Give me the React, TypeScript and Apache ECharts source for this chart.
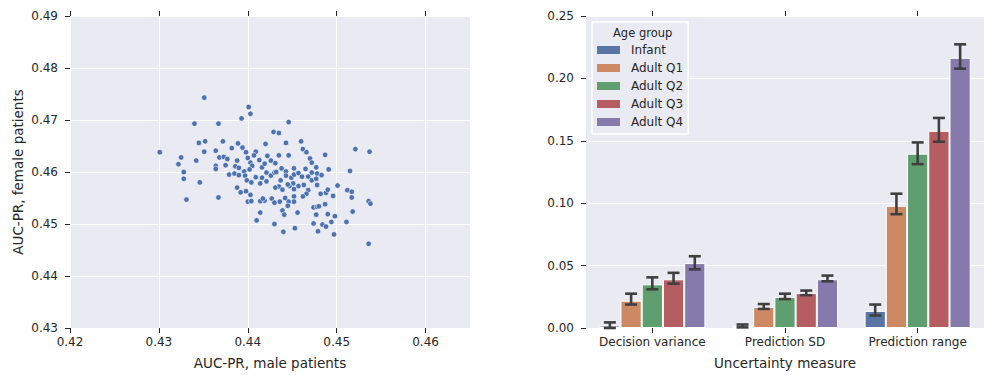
import React, { useEffect, useRef } from "react";
import * as echarts from "echarts";

const maleAUC = [
  0.4351, 0.4401, 0.4403, 0.434, 0.4367, 0.4393, 0.4446, 0.4429, 0.4435, 0.4345,
  0.4352, 0.4372, 0.4389, 0.442, 0.4443, 0.446, 0.4521, 0.4537, 0.4301, 0.4351,
  0.4364, 0.4382, 0.4394, 0.4398, 0.4409, 0.4462, 0.4466, 0.4487, 0.4325, 0.4342,
  0.4322, 0.4328, 0.4328, 0.4346, 0.4331, 0.4367, 0.4368, 0.4373, 0.4377, 0.4364,
  0.4364, 0.4375, 0.4379, 0.4386, 0.4388, 0.439, 0.4385, 0.439, 0.4396, 0.4397,
  0.44, 0.4403, 0.4405, 0.4402, 0.4407, 0.4399, 0.4404, 0.4388, 0.4392, 0.4398,
  0.4403, 0.44, 0.4404, 0.4409, 0.4413, 0.4416, 0.4419, 0.4422, 0.4426, 0.4421,
  0.4416, 0.4414, 0.4421, 0.4426, 0.443, 0.4431, 0.4435, 0.4438, 0.4432, 0.4437,
  0.4446, 0.4443, 0.4443, 0.4449, 0.4452, 0.4452, 0.4457, 0.4461, 0.4465, 0.447,
  0.4472, 0.4477, 0.4472, 0.4478, 0.4483, 0.4491, 0.4468, 0.4472, 0.4477, 0.4478,
  0.4463, 0.4457, 0.4451, 0.4447, 0.4445, 0.4435, 0.4431, 0.4439, 0.4452, 0.4468,
  0.4466, 0.4462, 0.4452, 0.4452, 0.4446, 0.4442, 0.4436, 0.4427, 0.443, 0.4419,
  0.4414, 0.4417, 0.4445, 0.4439, 0.4441, 0.4456, 0.4474, 0.4478, 0.448, 0.4487,
  0.4482, 0.4488, 0.449, 0.4496, 0.4501, 0.4512, 0.4517, 0.4517, 0.4515, 0.4477,
  0.449, 0.4498, 0.4494, 0.4484, 0.4488, 0.4474, 0.4479, 0.4497, 0.4511, 0.4518,
  0.4536, 0.4538, 0.4536, 0.4453, 0.444, 0.443, 0.4414, 0.441,
];
const femaleAUC = [
  0.4743, 0.4725, 0.4712, 0.4693, 0.4693, 0.4703, 0.4696, 0.4677, 0.4675, 0.4656,
  0.4659, 0.4659, 0.4655, 0.4654, 0.4656, 0.4659, 0.4644, 0.4639, 0.4638, 0.4639,
  0.4641, 0.4646, 0.4647, 0.4638, 0.4639, 0.4644, 0.4638, 0.4633, 0.4628, 0.4622,
  0.4615, 0.46, 0.4587, 0.458, 0.4547, 0.4551, 0.4628, 0.4629, 0.4625, 0.4612,
  0.4606, 0.4613, 0.4595, 0.4611, 0.4622, 0.4608, 0.4597, 0.4594, 0.4601, 0.4593,
  0.4627, 0.4618, 0.4612, 0.4605, 0.4632, 0.4584, 0.458, 0.457, 0.4561, 0.4563,
  0.4556, 0.4543, 0.4544, 0.459, 0.4623, 0.4609, 0.4616, 0.4631, 0.4622, 0.4599,
  0.4589, 0.4578, 0.4582, 0.4593, 0.4599, 0.4617, 0.4632, 0.4607, 0.46, 0.4584,
  0.4632, 0.4601, 0.4593, 0.4589, 0.4607, 0.4595, 0.4598, 0.4591, 0.4606, 0.4626,
  0.4618, 0.4609, 0.4599, 0.4597, 0.4594, 0.4605, 0.4591, 0.4584, 0.4587, 0.4575,
  0.4575, 0.4573, 0.4578, 0.4573, 0.4576, 0.4572, 0.457, 0.4566, 0.4567, 0.4565,
  0.4558, 0.4553, 0.4553, 0.4543, 0.4543, 0.455, 0.4543, 0.4549, 0.4541, 0.4545,
  0.4544, 0.4549, 0.4535, 0.4526, 0.4518, 0.4522, 0.4532, 0.4533, 0.4534, 0.4538,
  0.4558, 0.456, 0.4566, 0.4554, 0.4574, 0.4565, 0.4562, 0.4551, 0.4602, 0.4518,
  0.4519, 0.4515, 0.4504, 0.4499, 0.4495, 0.4501, 0.4486, 0.448, 0.4504, 0.4524,
  0.4544, 0.4539, 0.4462, 0.4492, 0.4485, 0.45, 0.4522, 0.4507,
];

const scatterXTicks = [0.42, 0.43, 0.44, 0.45, 0.46];

const measures = ["Decision variance", "Prediction SD", "Prediction range"];
const ageGroups = ["Infant", "Adult Q1", "Adult Q2", "Adult Q3", "Adult Q4"];
const groupColors = ["#5875A4", "#CC8963", "#5F9E6E", "#B55D60", "#857AAB"];

const infantMean = [0.002, 0.0016, 0.0137];
const adultQ1Mean = [0.0219, 0.0169, 0.0979];
const adultQ2Mean = [0.035, 0.0248, 0.1397];
const adultQ3Mean = [0.039, 0.028, 0.158];
const adultQ4Mean = [0.052, 0.039, 0.2165];

const infantLow = [0.0, 0.0005, 0.01];
const infantHigh = [0.0045, 0.0028, 0.0188];
const adultQ1Low = [0.0188, 0.0153, 0.0912];
const adultQ1High = [0.0275, 0.0192, 0.1076];
const adultQ2Low = [0.031, 0.0232, 0.1313];
const adultQ2High = [0.0406, 0.0275, 0.1487];
const adultQ3Low = [0.0355, 0.0263, 0.1493];
const adultQ3High = [0.0442, 0.030, 0.1683];
const adultQ4Low = [0.047, 0.0374, 0.2078];
const adultQ4High = [0.0575, 0.042, 0.2273];

const means = [infantMean, adultQ1Mean, adultQ2Mean, adultQ3Mean, adultQ4Mean];
const lows = [infantLow, adultQ1Low, adultQ2Low, adultQ3Low, adultQ4Low];
const highs = [infantHigh, adultQ1High, adultQ2High, adultQ3High, adultQ4High];

const TEXT = "#262626";
const FONT = "DejaVu Sans";
const BG = "#EAEAF2";

export default function App() {
  const ref = useRef<HTMLDivElement>(null);

  useEffect(() => {
    document.body.style.margin = "0";
    const chart = echarts.init(ref.current!, null, { renderer: "svg" });

    const tickStyle = { show: true, length: 5, lineStyle: { color: TEXT, width: 1 } };
    const labelStyle = { color: TEXT, fontSize: 12, fontFamily: FONT };

    const errData: number[][] = [];
    for (let s = 0; s < ageGroups.length; s++) {
      for (let c = 0; c < measures.length; c++) {
        errData.push([c, s, lows[s][c], highs[s][c]]);
      }
    }

    const option: any = {
      animation: false,
      textStyle: { fontFamily: FONT, color: TEXT },
      grid: [
        { left: 70, top: 16, width: 400, height: 316, show: true, backgroundColor: BG, borderWidth: 0 },
        { left: 586, top: 16, width: 401, height: 316, show: true, backgroundColor: BG, borderWidth: 0 },
      ],
      xAxis: [
        {
          type: "value", gridIndex: 0, min: 0.42, max: 0.465, position: "bottom",
          name: "AUC-PR, male patients", nameLocation: "middle", nameGap: 28,
          nameTextStyle: { color: TEXT, fontSize: 13.5, fontFamily: FONT },
          axisLine: { show: false },
          axisTick: { ...tickStyle, customValues: scatterXTicks },
          axisLabel: { ...labelStyle, margin: 8, customValues: scatterXTicks, formatter: (v: number) => v.toFixed(2) },
          splitLine: { show: true, lineStyle: { color: "#FFFFFF", width: 1 } },
        },
        {
          type: "value", gridIndex: 0, min: 0.42, max: 0.465, position: "top",
          axisLine: { show: false },
          axisTick: { ...tickStyle, customValues: scatterXTicks },
          axisLabel: { show: false },
          splitLine: { show: false },
        },
        {
          type: "category", gridIndex: 1, data: measures, position: "bottom",
          name: "Uncertainty measure", nameLocation: "middle", nameGap: 28,
          nameTextStyle: { color: TEXT, fontSize: 13.5, fontFamily: FONT },
          axisLine: { show: false },
          axisTick: { ...tickStyle, alignWithLabel: true, interval: 0 },
          axisLabel: { ...labelStyle, margin: 8, interval: 0 },
          splitLine: { show: false },
        },
        {
          type: "category", gridIndex: 1, data: measures, position: "top",
          axisLine: { show: false },
          axisTick: { ...tickStyle, alignWithLabel: true, interval: 0 },
          axisLabel: { show: false },
          splitLine: { show: false },
        },
      ],
      yAxis: [
        {
          type: "value", gridIndex: 0, min: 0.43, max: 0.49, interval: 0.01,
          name: "AUC-PR, female patients", nameLocation: "middle", nameGap: 45,
          nameTextStyle: { color: TEXT, fontSize: 13.5, fontFamily: FONT },
          axisLine: { show: false },
          axisTick: tickStyle,
          axisLabel: { ...labelStyle, margin: 12, formatter: (v: number) => v.toFixed(2) },
          splitLine: { show: true, lineStyle: { color: "#FFFFFF", width: 1 } },
        },
        {
          type: "value", gridIndex: 1, min: 0, max: 0.25, interval: 0.05,
          axisLine: { show: false },
          axisTick: tickStyle,
          axisLabel: { ...labelStyle, margin: 12, formatter: (v: number) => v.toFixed(2) },
          splitLine: { show: true, lineStyle: { color: "#FFFFFF", width: 1 } },
        },
      ],
      legend: {
        data: ageGroups,
        orient: "vertical",
        left: 592,
        top: 22,
        padding: [22, 5, 6, 5],
        itemWidth: 23,
        itemHeight: 8,
        itemGap: 6,
        icon: "rect",
        backgroundColor: BG,
        borderColor: "#FFFFFF",
        borderWidth: 1.5,
        itemStyle: { borderWidth: 0 },
        textStyle: { color: TEXT, fontSize: 12, fontFamily: FONT, lineHeight: 12, padding: [0, 0, 0, 6] },
        selectedMode: false,
      },
      graphic: [
        {
          type: "text", left: 613, top: 27, z: 100,
          style: { text: "Age group", fill: TEXT, fontSize: 11.5, fontFamily: FONT },
        },
      ],
      series: [
        {
          type: "scatter", xAxisIndex: 0, yAxisIndex: 0,
          data: maleAUC.map((x, i) => [x, femaleAUC[i]]),
          symbol: "circle", symbolSize: 5.5,
          itemStyle: { color: "#4C72B0", borderColor: "#FFFFFF", borderWidth: 0.6, opacity: 1 },
        },
        ...ageGroups.map((g, s) => ({
          type: "bar", name: g, xAxisIndex: 2, yAxisIndex: 1,
          data: means[s],
          barGap: "0%", barCategoryGap: "20%",
          itemStyle: { color: groupColors[s], borderColor: "#FFFFFF", borderWidth: 1 },
        })),
        {
          type: "custom", name: "errors", xAxisIndex: 2, yAxisIndex: 1, z: 10,
          data: errData,
          encode: { x: 0, y: [2, 3] },
          renderItem: (params: any, api: any) => {
            const c = api.value(0);
            const s = api.value(1);
            const lo = api.value(2);
            const hi = api.value(3);
            const band = api.size([1, 0])[0];
            const off = (s - 2) * band * 0.16;
            const pLo = api.coord([c, lo]);
            const pHi = api.coord([c, hi]);
            const x = pLo[0] + off;
            const half = 6;
            const st = { stroke: "#3F3F3F", lineWidth: 2.6 };
            return {
              type: "group",
              children: [
                { type: "line", shape: { x1: x, y1: pLo[1], x2: x, y2: pHi[1] }, style: st },
                { type: "line", shape: { x1: x - half, y1: pLo[1], x2: x + half, y2: pLo[1] }, style: st },
                { type: "line", shape: { x1: x - half, y1: pHi[1], x2: x + half, y2: pHi[1] }, style: st },
              ],
            };
          },
        },
      ],
    };

    chart.setOption(option);
    return () => chart.dispose();
  }, []);

  return (
    <div
      ref={ref}
      style={{ position: "absolute", left: 0, top: 0, width: 984, height: 375, background: "#FFFFFF" }}
    />
  );
}
